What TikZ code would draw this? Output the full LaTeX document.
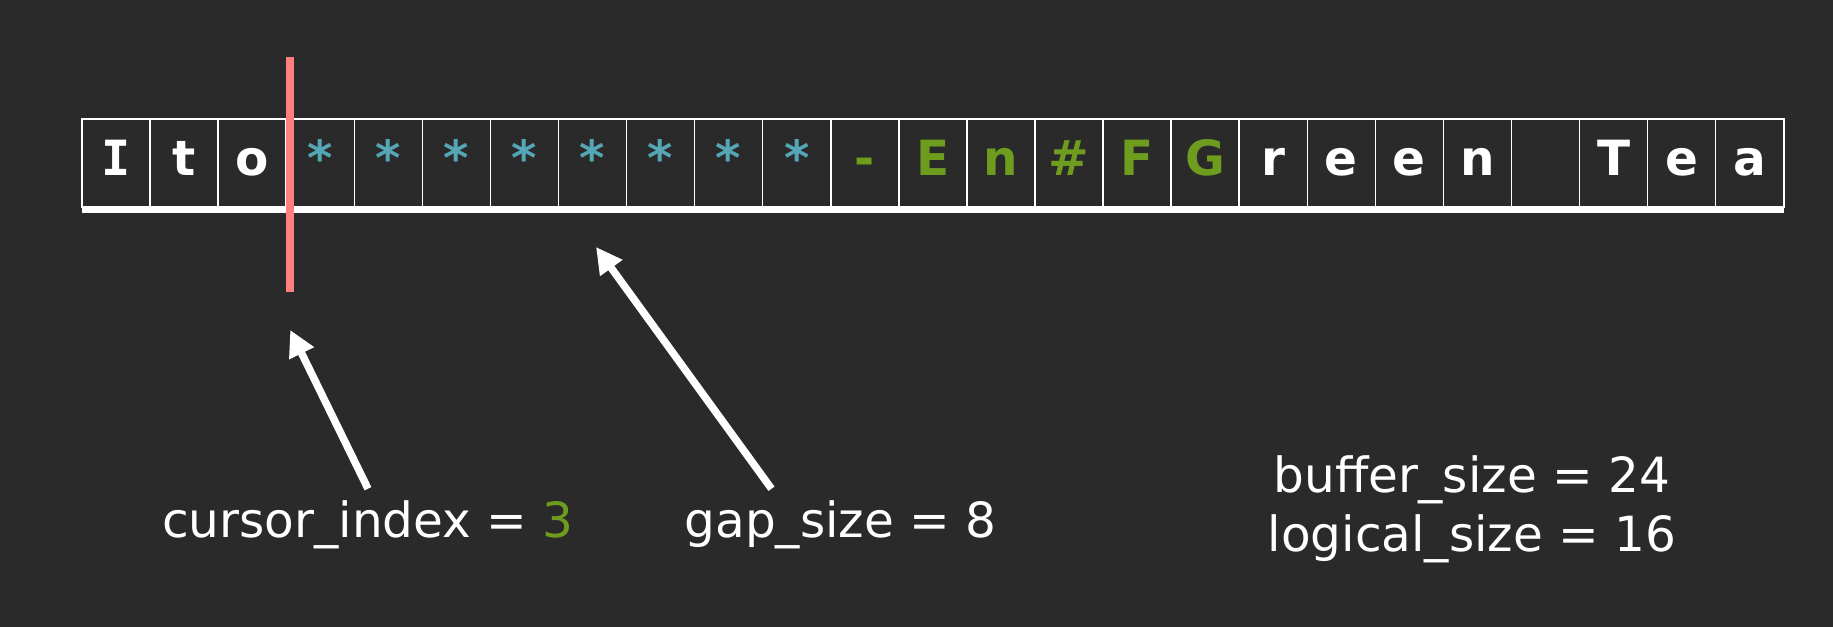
\documentclass[tikz,border=0pt]{standalone}
\usepackage{fontspec}
\setmainfont{DejaVu Sans}
\newfontfamily\monofont{DejaVu Sans Mono}
\usetikzlibrary{arrows.meta, positioning}
\definecolor{bgcol}{HTML}{2A2A2A}
\definecolor{gapcol}{HTML}{55A7B8}
\definecolor{aftercol}{HTML}{6E9C1E}
\definecolor{cursorcol}{HTML}{FF7E7E}

\begin{document}
\begin{tikzpicture}[cell/.style={draw=white, line width=0.015cm, outer sep=0pt, inner sep=0pt, minimum width=0.6807cm, minimum height=0.88cm, text height=0.36cm, text depth=0.10cm, text=white, font=\fontsize{13.8}{16}\selectfont\bfseries},
                    gapcell/.style={cell, text=gapcol},
                    aftercell/.style={cell, text=aftercol},
                    lbl/.style={anchor=base, text=white, font=\fontsize{13.8}{16}\selectfont},
                    pointer/.style={white, line width=0.075cm, -{Triangle[length=0.26cm, width=0.26cm]}}]
                    \fill[bgcol] (0,0) rectangle (18.33,6.27);
                    \useasboundingbox (0,0) rectangle (18.33,6.27);

                    \node[cell](b0) at (1.1604,4.64) {\monofont I};
                    \node[cell, right=0pt of b0](b1){t};
                    \node[cell, right=0pt of b1](b2){o};
                    \node[gapcell, right=0pt of b2](b3){*};
                    \node[gapcell, right=0pt of b3](b4){*};
                    \node[gapcell, right=0pt of b4](b5){*};
                    \node[gapcell, right=0pt of b5](b6){*};
                    \node[gapcell, right=0pt of b6](b7){*};
                    \node[gapcell, right=0pt of b7](b8){*};
                    \node[gapcell, right=0pt of b8](b9){*};
                    \node[gapcell, right=0pt of b9](b10){*};
                    \node[aftercell, right=0pt of b10](b11){-};
                    \node[aftercell, right=0pt of b11](b12){E};
                    \node[aftercell, right=0pt of b12](b13){n};
                    \node[aftercell, right=0pt of b13](b14){\#};
                    \node[aftercell, right=0pt of b14](b15){F};
                    \node[aftercell, right=0pt of b15](b16){G};
                    \node[cell, right=0pt of b16](b17){r};
                    \node[cell, right=0pt of b17](b18){e};
                    \node[cell, right=0pt of b18](b19){e};
                    \node[cell, right=0pt of b19](b20){n};
                    \node[cell, right=0pt of b20](b21){};
                    \node[cell, right=0pt of b21](b22){T};
                    \node[cell, right=0pt of b22](b23){e};
                    \node[cell, right=0pt of b23](b24){a};
                    \draw[white, line width=0.06cm] ([yshift=-0.03cm]b0.south west) -- ([yshift=-0.03cm]b24.south east);

                    \coordinate[above right=0.62cm and 0.04cm of b2.north east](curtop);
                    \coordinate[below right=0.85cm and 0.04cm of b2.south east](curbot);
                    \draw[cursorcol, line width=0.08cm] (curtop) -- (curbot);

                    \node[lbl](cursor) at (3.68,0.89) {cursor\_index = \textcolor{aftercol}{3}};
                    \node[lbl](gap) at ([xshift=4.725cm]cursor.base) {gap\_size = 8};
                    \node[lbl](bufsize) at (14.72,1.34) {buffer\_size = 24};
                    \node[lbl](logsize) at ([yshift=-0.587cm]bufsize.base) {logical\_size = 16};

                    \coordinate[below=0.38cm of curbot](curtip);
                    \coordinate[below right=0.4cm and 0.035cm of b7.south](gaptip);
                    \draw[pointer] (cursor.north) -- (curtip);
                    \draw[pointer] ([xshift=-0.69cm]gap.north) -- (gaptip);
                \end{tikzpicture}
\end{document}
